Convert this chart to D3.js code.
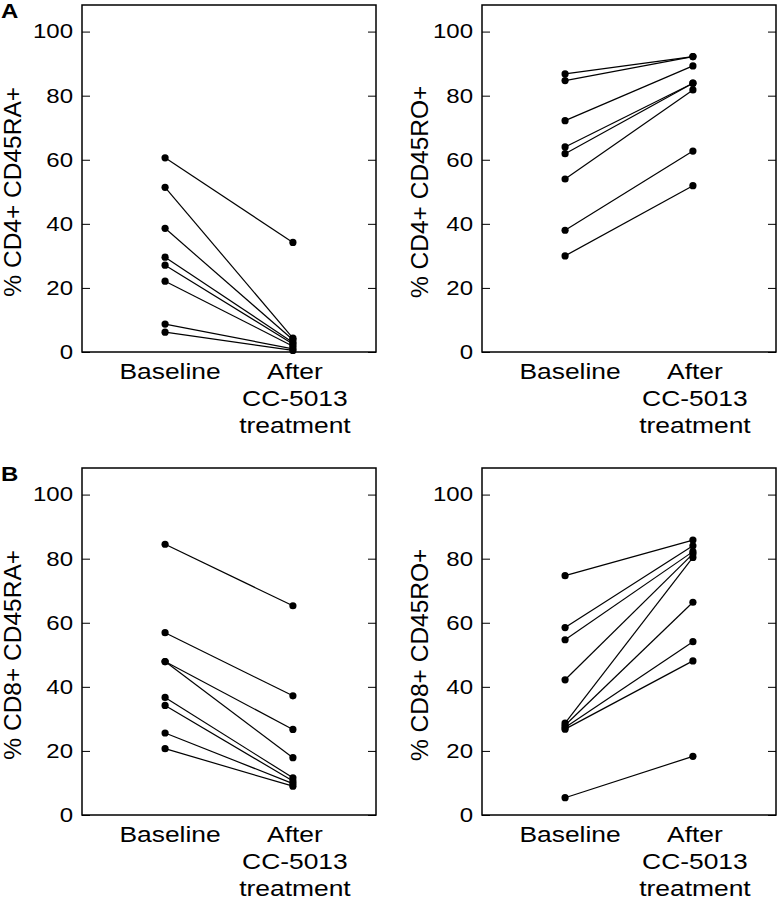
<!DOCTYPE html>
<html><head><meta charset="utf-8">
<script src="https://cdn.jsdelivr.net/npm/d3@7"></script>
<style>body{margin:0;background:#fff;} svg{display:block;}</style>
</head><body>
<svg id="c" width="777" height="899"></svg>
<script>
const categories = ["Baseline", "After"];
const yTicks = [0, 20, 40, 60, 80, 100];

// Panel A left: % CD4+ CD45RA+
const a1Baseline = [60.6, 51.4, 38.6, 29.6, 27.1, 22.1, 8.7, 6.2];
const a1After    = [34.2, 4.3, 3.8, 3.0, 2.5, 1.8, 1.0, 0.5];
// Panel A right: % CD4+ CD45RO+
const a2Baseline = [86.8, 84.7, 72.2, 64.0, 61.9, 54.0, 38.0, 30.0];
const a2After    = [92.2, 92.2, 89.3, 83.9, 83.9, 81.8, 62.7, 51.9];
// Panel B left: % CD8+ CD45RA+
const b1Baseline = [84.5, 56.9, 47.9, 47.9, 36.7, 34.2, 25.6, 20.7];
const b1After    = [65.3, 37.2, 26.7, 17.9, 11.6, 10.6, 9.8, 9.0];
// Panel B right: % CD8+ CD45RO+
const b2Baseline = [74.7, 58.5, 54.7, 42.2, 28.7, 28.0, 27.3, 26.8, 5.4];
const b2After    = [85.8, 84.0, 82.2, 81.5, 80.4, 66.4, 54.1, 48.1, 18.3];

const titles = ["% CD4+ CD45RA+", "% CD4+ CD45RO+", "% CD8+ CD45RA+", "% CD8+ CD45RO+"];
const afterLines = ["After", "CC-5013", "treatment"];

const svg = d3.select("#c");
const FONT = "'Liberation Sans', Arial, Helvetica, sans-serif";
const STRETCH = 1.2;
function widen(sel) {
  sel.each(function() {
    const len = this.getComputedTextLength();
    d3.select(this).attr("textLength", len * STRETCH).attr("lengthAdjust", "spacingAndGlyphs");
  });
}

const panels = [
  {x0: 82, y0: 5, base: a1Baseline, after: a1After, title: titles[0], letter: "A", tx: 21},
  {x0: 482, y0: 5, base: a2Baseline, after: a2After, title: titles[1], letter: null, tx: 428},
  {x0: 82, y0: 468, base: b1Baseline, after: b1After, title: titles[2], letter: "B", tx: 21},
  {x0: 482, y0: 468, base: b2Baseline, after: b2After, title: titles[3], letter: null, tx: 428}
];
const W = 294, H = 347;

panels.forEach(p => {
  const g = svg.append("g").attr("transform", `translate(${p.x0},${p.y0})`);
  const x = d3.scalePoint().domain(categories).range([0, W]).padding(0.65);
  const y = d3.scaleLinear().domain([0, 108.3]).range([H, 0]);

  const ax = g.append("g").call(d3.axisLeft(y).tickValues(yTicks).tickSizeInner(-8).tickSizeOuter(0).tickPadding(9));
  ax.select(".domain").remove();
  ax.selectAll("line").attr("stroke", "#000").attr("stroke-width", 1);
  ax.selectAll("text").attr("font-family", FONT).attr("font-size", 20).attr("fill", "#000").call(widen);

  const axr = g.append("g").attr("transform", `translate(${W},0)`)
    .call(d3.axisRight(y).tickValues(yTicks).tickSizeInner(-8).tickSizeOuter(0).tickFormat(""));
  axr.select(".domain").remove();
  axr.selectAll("line").attr("stroke", "#000").attr("stroke-width", 1);

  g.append("rect").attr("x", 0).attr("y", 0).attr("width", W).attr("height", H)
    .attr("fill", "none").attr("stroke", "#000").attr("stroke-width", 1.5);

  const pairs = p.base.map((b, i) => [b, p.after[i]]);
  g.selectAll("line.pair").data(pairs).enter().append("line").attr("class", "pair")
    .attr("x1", x("Baseline")).attr("x2", x("After"))
    .attr("y1", d => y(d[0])).attr("y2", d => y(d[1]))
    .attr("stroke", "#000").attr("stroke-width", 1.2);
  g.selectAll("circle.b").data(p.base).enter().append("circle")
    .attr("cx", x("Baseline")).attr("cy", d => y(d)).attr("r", 3.6).attr("fill", "#000");
  g.selectAll("circle.a").data(p.after).enter().append("circle")
    .attr("cx", x("After")).attr("cy", d => y(d)).attr("r", 3.6).attr("fill", "#000");

  const lab = g.append("g").attr("font-family", FONT).attr("font-size", 22).attr("text-anchor", "middle").attr("fill", "#000");
  lab.append("text").attr("x", x("Baseline") + 5).attr("y", H + 27).text(categories[0]);
  afterLines.forEach((t, i) => {
    lab.append("text").attr("x", x("After") + 2).attr("y", H + 27 + i * 27).text(t);
  });
  lab.selectAll("text").call(widen);

  svg.append("text").attr("transform", `translate(${p.tx},${p.y0 + y(50)}) rotate(-90)`)
    .attr("text-anchor", "middle").attr("font-family", FONT).attr("font-size", 24.5).attr("fill", "#000")
    .text(p.title);

  if (p.letter) {
    svg.append("text").attr("x", 1).attr("y", p.y0 + 13)
      .attr("font-family", FONT).attr("font-size", 20).attr("font-weight", "bold").text(p.letter).call(widen);
  }
});
</script>
</body></html>
